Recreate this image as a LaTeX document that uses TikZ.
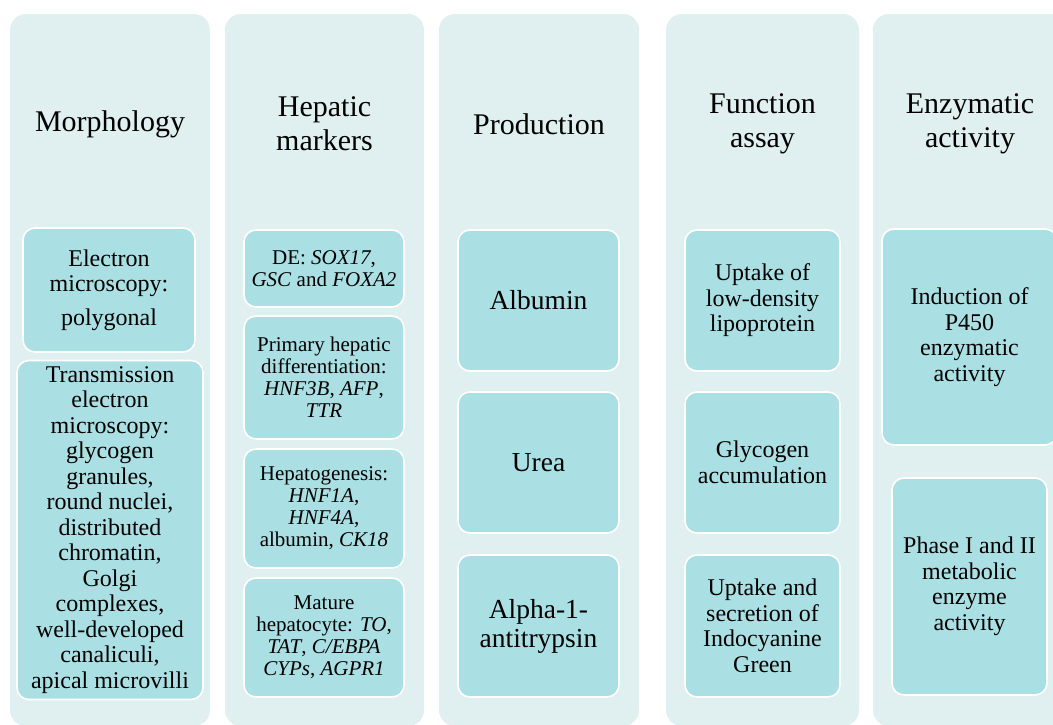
\documentclass[tikz,border=0pt]{standalone}
\usepackage{fontspec}
\setmainfont{Liberation Serif}
\usepackage{xcolor}
\usetikzlibrary{positioning}
\definecolor{colbg}{RGB}{224,240,241}
\definecolor{itembg}{RGB}{170,223,227}
\begin{document}
\begin{tikzpicture}[
    x=1pt, y=-1pt,
    column/.style={rectangle, fill=colbg, rounded corners=16pt, minimum width=#1, minimum height=712pt, inner sep=0pt},
    heading/.style={align=center, font=\fontsize{30}{34}\selectfont},
    item/.style={rectangle, fill=itembg, draw=white, line width=1.6pt, rounded corners=12pt, align=center, inner sep=2pt, font=\fontsize{24}{25.5}\selectfont},
    small/.style={item, font=\fontsize{21}{22}\selectfont},
    large/.style={item, font=\fontsize{27.5}{29}\selectfont}
]
    \useasboundingbox (0,0) rectangle (1053,724);
    \clip (0,0) rectangle (1053,724);
    \node [column=200pt] (morphcol) at (110,370) {};
    \node [column=199pt] (markcol) at (324.5,370) {};
    \node [column=200pt] (prodcol) at (539,370) {};
    \node [column=193pt] (assaycol) at (762.5,370) {};
    \node [column=194pt] (enzcol) at (970,370) {};
    \node [heading] (morph) at (110,124) {Morphology};
    \node [heading] (markers) at (324.5,124) {Hepatic\\markers};
    \node [heading] (prod) at (539,124) {Production};
    \node [heading] (assay) at (762.5,124) {Function\\assay};
    \node [heading] (enzyme) at (970,124) {Enzymatic\\activity};
    \node [item, minimum width=172pt, minimum height=124pt] (em) at (109,290) {Electron\\microscopy:\\[8pt]polygonal};
    \node [item, minimum width=186pt, minimum height=339pt] (tem) at (110,530) {Transmission\\electron\\microscopy:\\glycogen\\granules,\\round nuclei,\\distributed\\chromatin,\\Golgi\\complexes,\\well-developed\\canaliculi,\\apical microvilli};
    \node [small, minimum width=160pt, minimum height=77pt] (de) at (324,268.5) {DE: \textit{SOX17},\\\textit{GSC} and \textit{FOXA2}};
    \node [small, minimum width=160pt, minimum height=123pt] (primary) at (324,377.5) {Primary hepatic\\differentiation:\\\textit{HNF3B}, \textit{AFP},\\\textit{TTR}};
    \node [small, minimum width=160pt, minimum height=119pt] (hepato) at (324,508.5) {Hepatogenesis:\\\textit{HNF1A},\\\textit{HNF4A},\\albumin, \textit{CK18}};
    \node [small, minimum width=160pt, minimum height=119pt] (mature) at (324,637.5) {Mature\\hepatocyte: \textit{TO},\\\textit{TAT}, \textit{C/EBPA}\\\textit{CYPs}, \textit{AGPR1}};
    \node [large, minimum width=161pt, minimum height=141pt] (albumin) at (538.5,300.5) {Albumin};
    \node [large, minimum width=161pt, minimum height=141pt] (urea) at (538.5,462.5) {Urea};
    \node [large, minimum width=161pt, minimum height=142pt] (aat) at (538.5,626) {Alpha-1-\\antitrypsin};
    \node [item, minimum width=155pt, minimum height=141pt] (ldl) at (762.5,300.5) {Uptake of\\low-density\\lipoprotein};
    \node [item, minimum width=155pt, minimum height=141pt] (glycogen) at (762.5,462.5) {Glycogen\\accumulation};
    \node [item, minimum width=155pt, minimum height=142pt] (icg) at (762.5,626) {Uptake and\\secretion of\\Indocyanine\\Green};
    \node [item, minimum width=175pt, minimum height=216pt] (p450) at (969.5,337) {Induction of\\P450\\enzymatic\\activity};
    \node [item, minimum width=155pt, minimum height=217pt] (phase) at (969.5,586.5) {Phase I and II\\metabolic\\enzyme\\activity};
\end{tikzpicture}
\end{document}
